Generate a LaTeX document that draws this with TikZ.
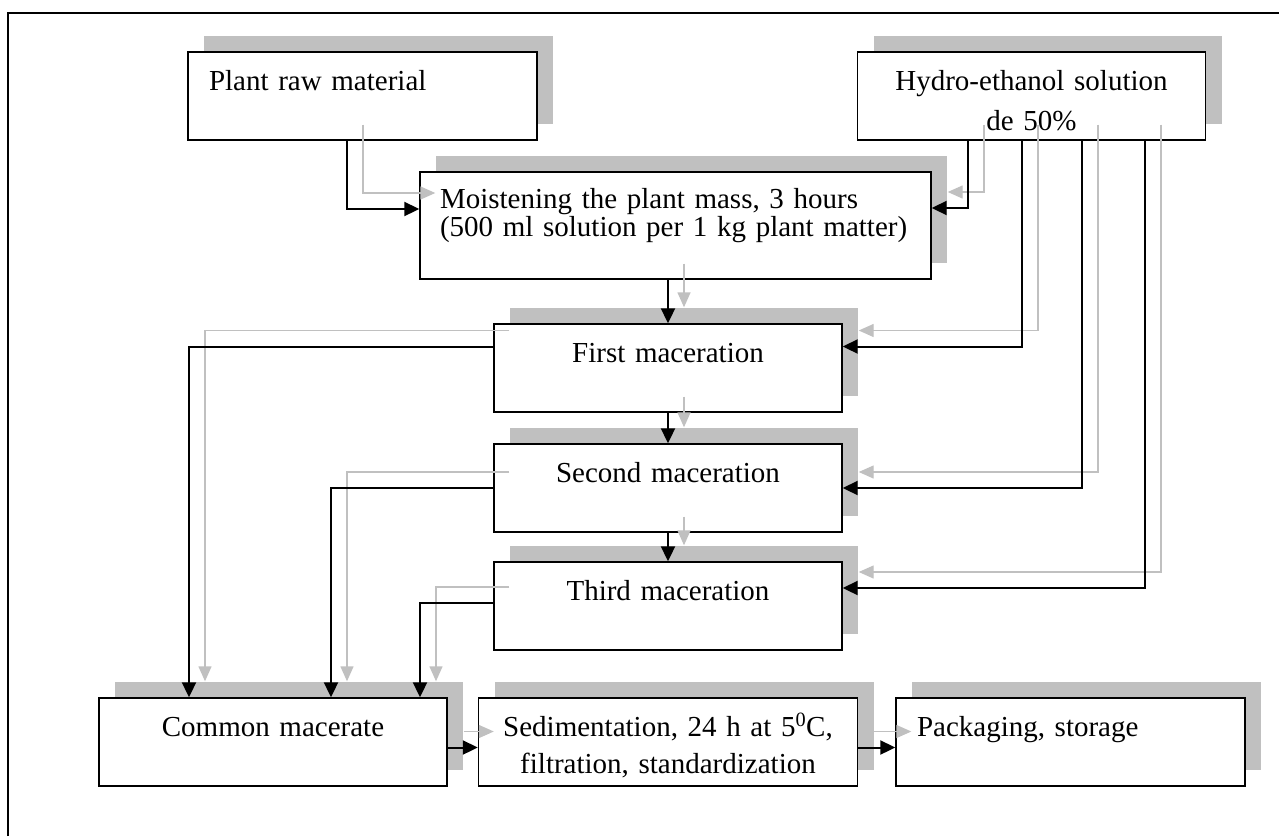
\documentclass[tikz,border=0pt]{standalone}
\usepackage{fontspec}
\setmainfont{Liberation Serif}
\usetikzlibrary{shadows}
\usetikzlibrary{arrows.meta}
\definecolor{shadowgray}{RGB}{192,192,192}
\tikzset{
    stage/.style = {rectangle, draw=black, line width=1.4pt, fill=white,
        inner ysep=0pt, inner xsep=21pt, text width=307pt, align=left,
        text height=38pt, text depth=50pt, font=\fontsize{29}{28.5}\selectfont,
        drop shadow={shadow xshift=16pt, shadow yshift=16pt, fill=shadowgray, opacity=1}},
    stagec/.style = {stage, inner xsep=10pt, text width=328pt, align=center},
    edgen/.style = {-{Triangle[length=15pt,width=14pt]}, line width=2pt, black},
    edgeg/.style = {-{Triangle[length=15pt,width=13pt]}, line width=1.4pt, shadowgray,
        transform canvas={xshift=16pt,yshift=16pt}}, % shadow of a flow
}

\begin{document}
\begin{tikzpicture}[x=1pt,y=-1pt]
\useasboundingbox (0,0) rectangle (1279,836);
\draw[line width=2pt] (8,836) -- (8,13) -- (1279,13);

\node[stage]  at (362.5,  96) (plant) {Plant raw material};
\node[stagec] at (1031.5, 96) (hydro) {Hydro-ethanol solution\\[11.5pt]de 50\%};
\node[stage, inner xsep=20pt, text width=471pt, text height=36pt, text depth=71pt]
              at (675.5, 225.5) (moist) {Moistening the plant mass, 3 hours\\(500 ml solution per 1 kg plant matter)};
\node[stagec] at (668, 368) (first)  {First maceration};
\node[stagec] at (668, 488) (second) {Second maceration};
\node[stagec] at (668, 606) (third)  {Third maceration};

\node[stagec] at (273, 742) (common) {Common macerate};
\node[stagec, text width=359pt] at (668, 742) (sed) {Sedimentation, 24 h at 5\textsuperscript{0}C,\\[8.5pt]filtration, standardization};
\node[stage]  at (1070.5, 742) (pack) {Packaging, storage};
%
\draw[edgeg] ([xshift=-15.5pt]plant.south) |- ([yshift=16.5pt]moist.west);
\draw[edgeg] ([xshift=-63.5pt]hydro.south) |- ([yshift=17.5pt]moist.east);
\draw[edgeg] ([xshift=-9.5pt]hydro.south)  |- ([yshift=21.5pt]first.east);
\draw[edgeg] ([xshift=50.5pt]hydro.south)  |- (second.east);
\draw[edgeg] ([xshift=113.5pt]hydro.south) |- ([yshift=18pt]third.east);
\draw[edgeg] (first.north |- moist.south) -- (first.north);
\draw[edgeg] (first.south) -- (second.north);
\draw[edgeg] (second.south) -- (third.north);
\draw[edgeg] ([yshift=21.5pt]first.west) -| ([xshift=-84pt]common.north);
\draw[edgeg] (second.west) -| ([xshift=58pt]common.north);
\draw[edgeg] ([yshift=3pt]third.west) -| ([xshift=147pt]common.north);
\draw[edgeg] ([yshift=-5.5pt]common.east) -- ([yshift=-5.5pt]sed.west);
\draw[edgeg] ([yshift=-5.5pt]sed.east) -- ([yshift=-5.5pt]pack.west);
%
\draw[edgen] ([xshift=-15.5pt]plant.south) |- ([yshift=16.5pt]moist.west);
\draw[edgen] ([xshift=-63.5pt]hydro.south) |- ([yshift=17.5pt]moist.east);
\draw[edgen] ([xshift=-9.5pt]hydro.south)  |- ([yshift=21.5pt]first.east);
\draw[edgen] ([xshift=50.5pt]hydro.south)  |- (second.east);
\draw[edgen] ([xshift=113.5pt]hydro.south) |- ([yshift=18pt]third.east);
\draw[edgen] (first.north |- moist.south) -- (first.north);
\draw[edgen] (first.south) -- (second.north);
\draw[edgen] (second.south) -- (third.north);
\draw[edgen] ([yshift=21.5pt]first.west) -| ([xshift=-84pt]common.north);
\draw[edgen] (second.west) -| ([xshift=58pt]common.north);
\draw[edgen] ([yshift=3pt]third.west) -| ([xshift=147pt]common.north);
\draw[edgen] ([yshift=-5.5pt]common.east) -- ([yshift=-5.5pt]sed.west);
\draw[edgen] ([yshift=-5.5pt]sed.east) -- ([yshift=-5.5pt]pack.west);
\end{tikzpicture}
\end{document}
